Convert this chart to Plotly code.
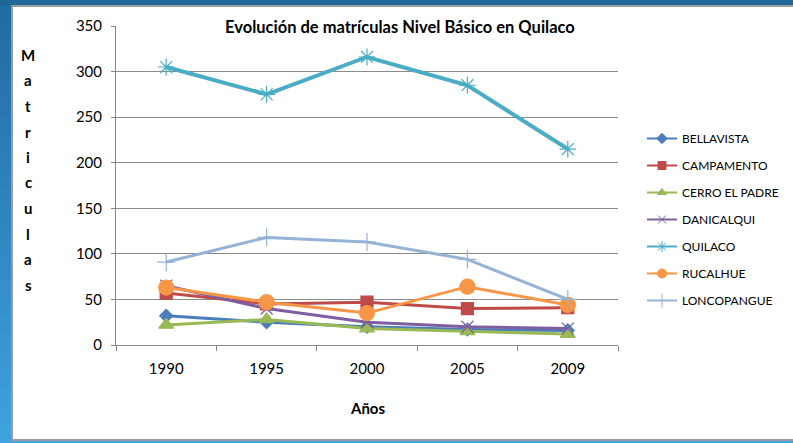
import plotly.graph_objects as go

years = ["1990", "1995", "2000", "2005", "2009"]
bellavista = [32, 25, 20, 17, 16]
campamento = [57, 45, 47, 40, 41]
cerro_el_padre = [22, 28, 18, 15, 12]
danicalqui = [65, 40, 25, 20, 18]
quilaco = [305, 275, 316, 285, 215]
rucalhue = [63, 47, 35, 64, 44]
loncopangue = [91, 118, 113, 94, 50]

series = [
    ("BELLAVISTA", bellavista, "#4a7ebb", "diamond", 10, 3, 8),
    ("CAMPAMENTO", campamento, "#be4b48", "square", 12, 3, 8),
    ("CERRO EL PADRE", cerro_el_padre, "#98b954", "triangle-up", 13, 3, 8),
    ("DANICALQUI", danicalqui, "#7d5fa0", "x-thin-open", 12, 3, 8),
    ("QUILACO", quilaco, "#4bacc6", "asterisk-open", 14, 4, 9),
    ("RUCALHUE", rucalhue, "#f79646", "circle", 15, 3, 9),
    ("LONCOPANGUE", loncopangue, "#95b3d7", "cross-thin-open", 13, 3, 10),
]

W, H = 793, 443
L, R, T, B = 116, 618, 26, 345  # plot area in pixels


def px(x):
    return (x - L) / (R - L)


def py(y):
    return (B - y) / (B - T)


FONT = "Lato"
fig = go.Figure()
for i, (name, vals, col, sym, sz, lw, lsz) in enumerate(series):
    fig.add_trace(go.Scatter(
        x=years, y=vals, name=name, mode="lines+markers",
        line=dict(color=col, width=lw),
        marker=dict(symbol=sym, size=sz, color=col,
                    line=dict(color=col, width=1.2)),
        legendgroup=name, showlegend=False,
    ))
    fig.add_trace(go.Scatter(
        x=[None], y=[None], name=name, mode="lines+markers",
        line=dict(color=col, width=2),
        marker=dict(symbol=sym, size=lsz, color=col,
                    line=dict(color=col, width=1)),
        legendgroup=name, showlegend=True, hoverinfo="skip",
    ))

shapes = []
shapes.append(dict(type="rect", xref="paper", yref="paper",
                   x0=px(-5), x1=px(W + 5), y0=py(-5), y1=py(7),
                   fillcolor="#1f6799", line=dict(width=0), layer="below"))
n = 24
c0 = (0x22, 0x6c, 0xa4)
c1 = (0x3e, 0xa2, 0xdf)
for k in range(n):
    t = k / (n - 1)
    c = tuple(int(c0[j] + (c1[j] - c0[j]) * t) for j in range(3))
    y0 = 6 + (H - 6) * k / n
    y1 = 6 + (H - 6) * (k + 1) / n
    shapes.append(dict(type="rect", xref="paper", yref="paper",
                       x0=px(-5), x1=px(12), y0=py(y1 + 1), y1=py(y0),
                       fillcolor="rgb(%d,%d,%d)" % c, line=dict(width=0), layer="below"))
shapes.append(dict(type="rect", xref="paper", yref="paper",
                   x0=px(-5), x1=px(W + 5), y0=py(H + 5), y1=py(440),
                   fillcolor="#41a4e0", line=dict(width=0), layer="below"))
shapes.append(dict(type="rect", xref="paper", yref="paper",
                   x0=px(12), x1=px(W + 10), y0=py(440), y1=py(6),
                   fillcolor="white", line=dict(color="#9c9c9c", width=2), layer="below"))

annotations = [
    dict(text="<b>Evolución de matrículas Nivel Básico en Quilaco</b>",
         xref="paper", yref="paper", x=px(400), y=py(27), showarrow=False,
         xanchor="center", yanchor="middle", font=dict(family=FONT, size=16.5, color="#000")),
    dict(text="<b>Años</b>", xref="paper", yref="paper", x=px(367), y=py(408),
         showarrow=False, xanchor="center", yanchor="middle",
         font=dict(family=FONT, size=15, color="#000")),
]
for k, ch in enumerate("Matriculas"):
    annotations.append(dict(text="<b>%s</b>" % ch, xref="paper", yref="paper",
                            x=px(28), y=py(55 + 25.5 * k), showarrow=False,
                            xanchor="center", yanchor="middle",
                            font=dict(family=FONT, size=15, color="#000")))

fig.update_layout(
    width=W, height=H, autosize=False,
    margin=dict(l=L, r=W - R, t=T, b=H - B, pad=0),
    paper_bgcolor="#2f86c0", plot_bgcolor="rgba(0,0,0,0)",
    shapes=shapes, annotations=annotations,
    showlegend=True,
    legend=dict(xref="container", yref="container",
                x=642 / W, y=1 - 124 / H, xanchor="left", yanchor="top",
                font=dict(family=FONT, size=12, color="#000"),
                bgcolor="rgba(0,0,0,0)", tracegroupgap=8, traceorder="grouped",
                itemwidth=30),
    xaxis=dict(type="category", range=[-0.5, 4.5], tickson="boundaries",
               ticks="outside", ticklen=5, tickcolor="#878787",
               showline=True, linecolor="#878787", linewidth=1,
               showgrid=False, tickfont=dict(family=FONT, size=15, color="#000"),
               ticklabelstandoff=10),
    yaxis=dict(range=[0, 350], dtick=50, ticks="outside", ticklen=4,
               tickcolor="#878787", showline=True, linecolor="#878787",
               gridcolor="#8a8a8a", gridwidth=1, zeroline=False,
               tickfont=dict(family=FONT, size=15, color="#000"),
               ticklabelstandoff=6),
)

fig.write_html("out.html", config={"displayModeBar": False},
               post_script="document.body.style.margin='0';document.body.style.overflow='hidden';")
